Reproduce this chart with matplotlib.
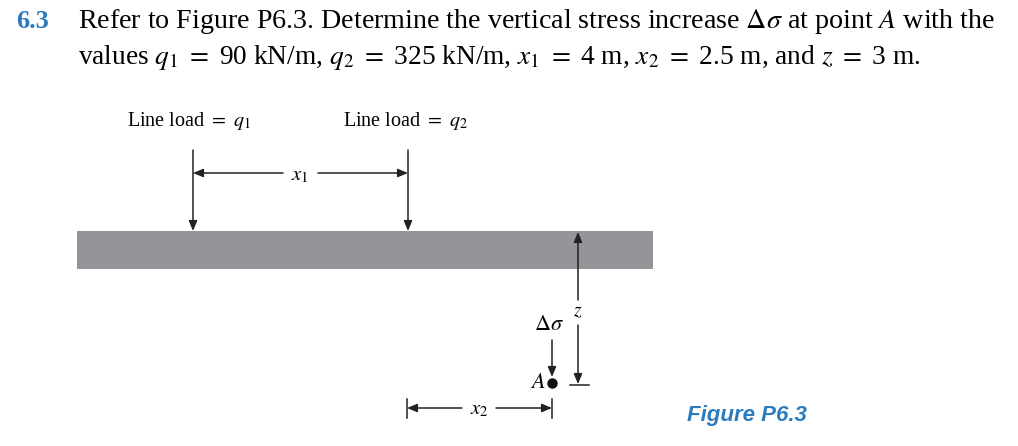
import matplotlib
matplotlib.use("Agg")
import matplotlib.pyplot as plt
from matplotlib.patches import Rectangle

plt.rcParams['font.family'] = ['Liberation Serif', 'DejaVu Serif']
plt.rcParams['mathtext.fontset'] = 'stix'

problem_no = "6.3"
line1 = r"Refer to Figure P6.3. Determine the vertical stress increase $\Delta\sigma$ at point $A$ with the"
line2 = r"values $q_1\ =\ $90 kN/m, $q_2\ =\ $325 kN/m, $x_1\ =\ $4 m, $x_2\ =\ $2.5 m, and $z\ =\ $3 m."
load_labels = [r"Line load $=\ q_1$", r"Line load $=\ q_2$"]
fig_caption = "Figure P6.3"

fig = plt.figure(figsize=(10.18, 4.46), dpi=100)
ax = fig.add_axes([0, 0, 1, 1])
ax.set_xlim(0, 1018); ax.set_ylim(446, 0); ax.axis('off')

blue = '#2b7bbf'
ax.text(16, 22, problem_no, color=blue, fontsize=19, fontweight='bold', va='center')
ax.text(78, 22, line1, fontsize=20.2, va='center')
ax.text(78, 57, line2, fontsize=19.7, va='center')

ax.add_patch(Rectangle((77, 231), 576, 38, color='#939598', lw=0))

ak = dict(arrowstyle='-|>,head_length=0.6,head_width=0.25', color='#222', lw=1.1, shrinkA=0, shrinkB=0)
# loads
for x, lab, lx in [(193, load_labels[0], 127), (408, load_labels[1], 343)]:
    ax.annotate('', xy=(x, 231), xytext=(x, 150), arrowprops=ak)
    ax.text(lx, 121, lab, fontsize=14.5, va='center')
# x1 dimension
ax.text(300, 176, r"$x_1$", fontsize=15, ha='center', va='center')
ax.annotate('', xy=(193, 173), xytext=(283, 173), arrowprops=ak)
ax.annotate('', xy=(408, 173), xytext=(318, 173), arrowprops=ak)
# z dimension
ax.annotate('', xy=(578, 232), xytext=(578, 300), arrowprops=ak)
ax.text(578, 312, r"$z$", fontsize=14, ha='center', va='center')
ax.annotate('', xy=(578, 384), xytext=(578, 325), arrowprops=ak)
ax.plot([570, 589], [385, 385], color='#222', lw=1.1)
# delta sigma
ax.text(549, 325, r"$\Delta\sigma$", fontsize=16, ha='center', va='center')
ax.annotate('', xy=(552, 377), xytext=(552, 340), arrowprops=ak)
ax.plot([552], [383], 'o', color='#111', ms=6.5)
ax.text(538, 384, r"$A$", fontsize=16, ha='center', va='center')
# x2 dimension
ax.plot([407, 407], [399, 418], color='#222', lw=1.1)
ax.plot([552, 552], [399, 418], color='#222', lw=1.1)
ax.text(479, 410, r"$x_2$", fontsize=15, ha='center', va='center')
ax.annotate('', xy=(407, 408), xytext=(462, 408), arrowprops=ak)
ax.annotate('', xy=(552, 408), xytext=(496, 408), arrowprops=ak)

ax.text(687, 416, fig_caption, color=blue, fontsize=16, fontweight='bold', fontstyle='italic',
        family='Liberation Sans', va='center')

fig.savefig('out.png', dpi=100)
